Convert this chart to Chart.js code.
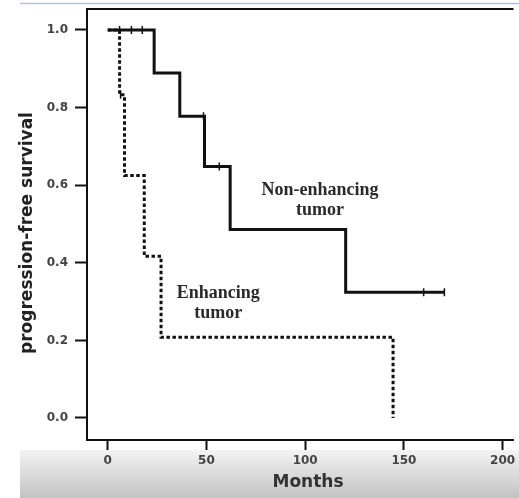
<!DOCTYPE html>
<html>
<head>
<meta charset="utf-8">
<script src="https://cdn.jsdelivr.net/npm/chart.js@4.4.1/dist/chart.umd.min.js"></script>
<style>
  html, body { margin: 0; padding: 0; background: #fff; overflow: hidden; }
  canvas { display: block; }
</style>
</head>
<body>
<canvas id="pfsChart" width="519" height="498"></canvas>
<script>
// Kaplan-Meier steps: month of each event and the survival after it
const nonEnhMonths = [0, 23.5, 36.5, 49, 62, 120.5, 170.5];
const nonEnhSurv = [1.0, 0.889, 0.778, 0.648, 0.486, 0.324, 0.324];
const enhMonths = [0, 6, 8.5, 18.5, 27, 144.5];
const enhSurv = [1.0, 0.833, 0.625, 0.417, 0.208, 0.0];

// censored patients, in months
const nonEnhCensored = [6, 12, 17.5, 48.5, 56.5, 160, 170.5];
const enhCensored = [6.5];

const xTicks = [0, 50, 100, 150, 200];
const yTicks = [0.0, 0.2, 0.4, 0.6, 0.8, 1.0];

const xTitle = "Months";
const yTitle = "progression-free survival";

const curveLabels = [
    { lines: ["Non-enhancing", "tumor"], month: 107.5, surv: 0.562 },
    { lines: ["Enhancing", "tumor"], month: 56, surv: 0.296 },
];

function survAt(months, surv, t) {
    let s = surv[0];
    months.forEach((m, i) => {
        if (m <= t) s = surv[i];
    });
    return s;
}

const toPoints = (months, surv) => months.map((m, i) => ({ x: m, y: surv[i] }));
const censorPoints = (times, months, surv) =>
    times.map((t) => ({ x: t, y: survAt(months, surv, t) }));

const tickFont = { family: "DejaVu Sans", size: 12, weight: "bold" };

const decorPlugin = {
    id: "decor",
    beforeDraw(chart) {
        const ctx = chart.ctx;
        ctx.save();
        ctx.fillStyle = "#fff";
        ctx.fillRect(0, 0, chart.width, chart.height);
        // grey fade along the bottom
        const grad = ctx.createLinearGradient(0, 450, 0, chart.height);
        grad.addColorStop(0, "#f3f3f3");
        grad.addColorStop(1, "#c3c3c3");
        ctx.fillStyle = grad;
        ctx.fillRect(20, 450, chart.width - 20, chart.height - 450);
        ctx.strokeStyle = "#b6c4d8";
        ctx.lineWidth = 1.5;
        ctx.beginPath();
        ctx.moveTo(20, 3.5);
        ctx.lineTo(chart.width, 3.5);
        ctx.stroke();
        ctx.restore();
    },
    afterDraw(chart) {
        const { ctx, chartArea } = chart;
        const xs = chart.scales.x;
        const ys = chart.scales.y;
        ctx.save();
        // top frame line
        ctx.strokeStyle = "#111";
        ctx.lineWidth = 2;
        ctx.beginPath();
        ctx.moveTo(chartArea.left - 1, chartArea.top);
        ctx.lineTo(chartArea.right, chartArea.top);
        ctx.stroke();

        // axis titles
        ctx.textAlign = "center";
        ctx.textBaseline = "middle";
        ctx.font = 'bold 17px "DejaVu Sans"';
        ctx.fillStyle = "#333";
        ctx.fillText(xTitle, 308, 483);
        ctx.save();
        ctx.translate(28, 233);
        ctx.rotate(-Math.PI / 2);
        ctx.fillStyle = "#222";
        ctx.fillText(yTitle, 0, 0);
        ctx.restore();

        // curve names
        ctx.fillStyle = "#2a2a2a";
        ctx.font = 'bold 18px "Liberation Serif"';
        curveLabels.forEach((lab) => {
            const cx = xs.getPixelForValue(lab.month);
            const cy = ys.getPixelForValue(lab.surv);
            lab.lines.forEach((txt, i) => {
                ctx.fillText(txt, cx, cy + (i - (lab.lines.length - 1) / 2) * 20);
            });
        });
        ctx.restore();
    },
};

new Chart(document.getElementById("pfsChart"), {
    type: "line",
    data: {
        datasets: [
            {
                label: "Non-enhancing tumor",
                data: toPoints(nonEnhMonths, nonEnhSurv),
                stepped: true,
                borderColor: "#111",
                borderWidth: 3,
                pointRadius: 0,
                fill: false,
            },
            {
                label: "Non-enhancing censored",
                data: censorPoints(nonEnhCensored, nonEnhMonths, nonEnhSurv),
                showLine: false,
                pointStyle: "line",
                rotation: 90,
                pointRadius: 4,
                borderColor: "#111",
                borderWidth: 1.5,
            },
            {
                label: "Enhancing tumor",
                data: toPoints(enhMonths, enhSurv),
                stepped: true,
                borderColor: "#111",
                borderWidth: 3,
                borderDash: [3.5, 2.5],
                pointRadius: 0,
                fill: false,
            },
            {
                label: "Enhancing censored",
                data: censorPoints(enhCensored, enhMonths, enhSurv),
                showLine: false,
                pointStyle: "line",
                rotation: 90,
                pointRadius: 4,
                borderColor: "#111",
                borderWidth: 1.5,
            },
        ],
    },
    options: {
        responsive: false,
        animation: false,
        devicePixelRatio: 1,
        layout: { padding: { top: 9, left: 0, right: 0, bottom: 0 } },
        plugins: {
            legend: { display: false },
            tooltip: { enabled: false },
        },
        scales: {
            x: {
                type: "linear",
                min: -10.5,
                max: 205.5,
                afterBuildTicks: (s) => {
                    s.ticks = xTicks.map((v) => ({ value: v }));
                },
                afterFit: (s) => {
                    s.height = 58;
                    s.paddingLeft = 0;
                    s.paddingRight = 0;
                },
                grid: {
                    drawOnChartArea: false,
                    tickLength: 10,
                    tickColor: "#111",
                    tickWidth: 2,
                },
                border: { display: true, color: "#111", width: 2 },
                ticks: {
                    color: "#444",
                    font: tickFont,
                    padding: 4,
                    maxRotation: 0,
                    callback: (v) => String(v),
                },
            },
            y: {
                type: "linear",
                min: -0.0567,
                max: 1.0541,
                afterBuildTicks: (s) => {
                    s.ticks = yTicks.map((v) => ({ value: v }));
                },
                afterFit: (s) => {
                    s.width = 87;
                    s.paddingTop = 0;
                    s.paddingBottom = 0;
                },
                grid: {
                    drawOnChartArea: false,
                    tickLength: 12,
                    tickColor: "#111",
                    tickWidth: 2,
                },
                border: { display: true, color: "#111", width: 2 },
                ticks: {
                    color: "#444",
                    font: tickFont,
                    padding: 7,
                    callback: (v) => v.toFixed(1),
                },
            },
        },
    },
    plugins: [decorPlugin],
});
</script>
</body>
</html>
